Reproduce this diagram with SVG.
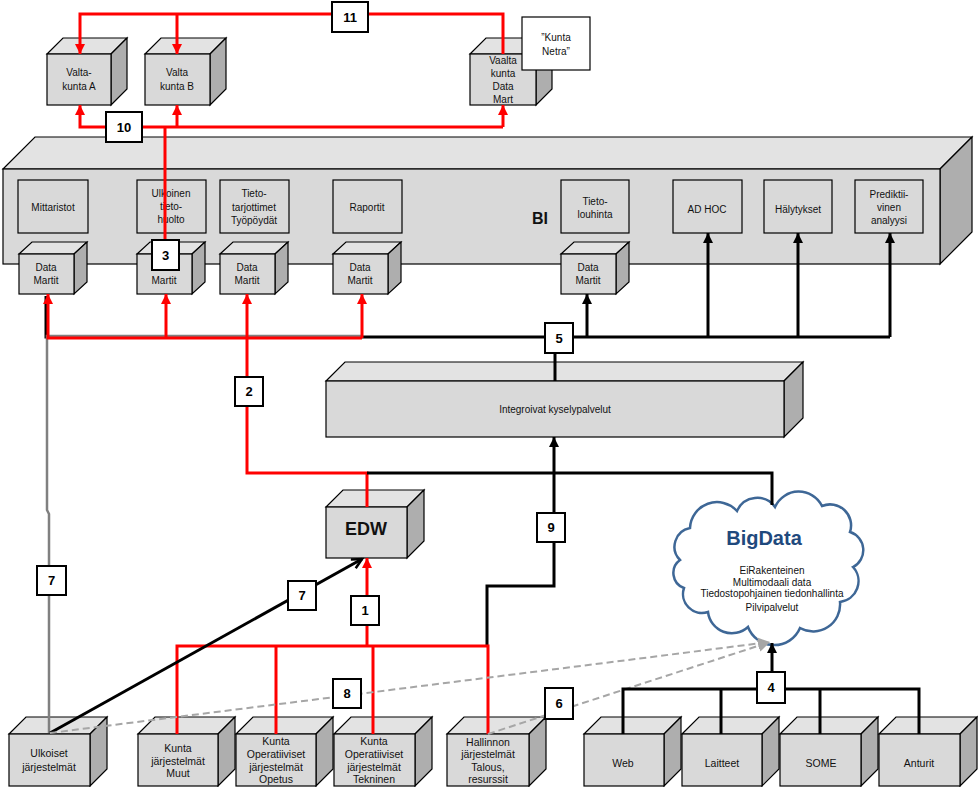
<svg xmlns="http://www.w3.org/2000/svg" width="978" height="787" viewBox="0 0 978 787">
<defs>
<style>
.f{fill:#d9d9d9;stroke:#000;stroke-width:1.2}
.t{fill:#e3e3e3;stroke:#000;stroke-width:1.2}
.s{fill:#aeaeae;stroke:#000;stroke-width:1.2}
.ib{fill:#d9d9d9;stroke:#000;stroke-width:1.2}
text{font-family:"Liberation Sans",Arial,sans-serif;font-size:10px;fill:#111;text-anchor:middle}
.b{font-size:10.5px}
.lb rect{fill:#fff;stroke:#000;stroke-width:2}
.lb text{font-weight:bold;font-size:13px;fill:#000}
.red{fill:none;stroke:#f00;stroke-width:3}
.blk{fill:none;stroke:#000;stroke-width:3}
.gry{fill:none;stroke:#808080;stroke-width:2.5}
.dsh{fill:none;stroke:#a6a6a6;stroke-width:2;stroke-dasharray:7 4}
</style>
<marker id="ar" markerUnits="userSpaceOnUse" markerWidth="11" markerHeight="11" refX="10" refY="5" orient="auto"><path d="M0,0 L10,5 L0,10 z" fill="#f00"/></marker>
<marker id="ab" markerUnits="userSpaceOnUse" markerWidth="11" markerHeight="11" refX="10" refY="5" orient="auto"><path d="M0,0 L10,5 L0,10 z" fill="#000"/></marker>
<marker id="ao" markerUnits="userSpaceOnUse" markerWidth="14" markerHeight="14" refX="11" refY="6" orient="auto"><path d="M1,1 L11,6 L1,11" fill="none" stroke="#000" stroke-width="2.5"/></marker>
<marker id="ag" markerUnits="userSpaceOnUse" markerWidth="13" markerHeight="13" refX="12" refY="6" orient="auto"><path d="M0,0 L12,6 L0,12 z" fill="#a6a6a6"/></marker>
</defs>
<rect width="978" height="787" fill="#fff"/>

<!-- BI container -->
<g id="bi">
<polygon class="t" points="3,169 35,137 972,137 940,169"/>
<polygon class="s" points="940,169 972,137 972,232 940,264"/>
<rect class="f" x="3" y="169" width="937" height="95"/>
<text x="540" y="224" style="font-weight:bold;font-size:16px">BI</text>
</g>
<g id="mittaristot"><rect class="ib" x="18" y="180" width="70" height="53"/><text x="53" y="211">Mittaristot</text></g>
<g id="ulkoinen"><rect class="ib" x="137" y="180" width="69" height="53"/><text x="171" y="197">Ulkoinen</text><text x="171" y="210">tieto-</text><text x="171" y="223">huolto</text></g>
<g id="tietotarjottimet"><rect class="ib" x="220" y="180" width="69" height="53"/><text x="254" y="197">Tieto-</text><text x="254" y="211">tarjottimet</text><text x="254" y="224">Työpöydät</text></g>
<g id="raportit"><rect class="ib" x="333" y="180" width="69" height="53"/><text x="367" y="211">Raportit</text></g>
<g id="tietolouhinta"><rect class="ib" x="561" y="180" width="68" height="53"/><text x="595" y="205">Tieto-</text><text x="595" y="218">louhinta</text></g>
<g id="adhoc"><rect class="ib" x="673" y="180" width="69" height="53"/><text x="707" y="213">AD HOC</text></g>
<g id="halytykset"><rect class="ib" x="764" y="180" width="68" height="53"/><text x="798" y="213">Hälytykset</text></g>
<g id="prediktiivinen"><rect class="ib" x="855" y="180" width="68" height="53"/><text x="889" y="198">Prediktii-</text><text x="889" y="211">vinen</text><text x="889" y="224">analyysi</text></g>

<!-- Data martit cubes -->
<g id="dm1"><polygon class="t" points="19,254 32,242 87,242 74,254"/><polygon class="s" points="74,254 87,242 87,282 74,294"/><rect class="f" x="19" y="254" width="55" height="40"/><text x="46" y="271">Data</text><text x="46" y="284">Martit</text></g>
<g id="dm2"><polygon class="t" points="137,254 150,242 205,242 192,254"/><polygon class="s" points="192,254 205,242 205,282 192,294"/><rect class="f" x="137" y="254" width="55" height="40"/><text x="164" y="271">Data</text><text x="164" y="284">Martit</text></g>
<g id="dm3"><polygon class="t" points="220,254 233,242 288,242 275,254"/><polygon class="s" points="275,254 288,242 288,282 275,294"/><rect class="f" x="220" y="254" width="55" height="40"/><text x="247" y="271">Data</text><text x="247" y="284">Martit</text></g>
<g id="dm4"><polygon class="t" points="333,254 346,242 401,242 388,254"/><polygon class="s" points="388,254 401,242 401,282 388,294"/><rect class="f" x="333" y="254" width="55" height="40"/><text x="360" y="271">Data</text><text x="360" y="284">Martit</text></g>
<g id="dm5"><polygon class="t" points="561,254 574,242 629,242 616,254"/><polygon class="s" points="616,254 629,242 629,282 616,294"/><rect class="f" x="561" y="254" width="55" height="40"/><text x="588" y="271">Data</text><text x="588" y="284">Martit</text></g>

<!-- Top cubes -->
<g id="valtakuntaA"><polygon class="t" points="47,54 63,38 127,38 111,54"/><polygon class="s" points="111,54 127,38 127,89 111,105"/><rect class="f" x="47" y="54" width="64" height="51"/><text x="79" y="76">Valta-</text><text x="79" y="90">kunta A</text></g>
<g id="valtakuntaB"><polygon class="t" points="145,54 161,38 226,38 210,54"/><polygon class="s" points="210,54 226,38 226,89 210,105"/><rect class="f" x="145" y="54" width="65" height="51"/><text x="177" y="76">Valta</text><text x="177" y="90">kunta B</text></g>
<g id="vaaltadatamart"><polygon class="t" points="470,54 486,38 552,38 536,54"/><polygon class="s" points="536,54 552,38 552,89 536,105"/><rect class="f" x="470" y="54" width="66" height="51"/><text x="503" y="64">Vaalta</text><text x="503" y="77">kunta</text><text x="503" y="90">Data</text><text x="503" y="103">Mart</text></g>
<g id="kuntanetra"><rect x="522" y="17" width="68" height="53" fill="#fff" stroke="#000" stroke-width="1.2"/><text x="556" y="41">”Kunta</text><text x="556" y="55">Netra”</text></g>

<!-- Integroivat -->
<g id="integroivat"><polygon class="t" points="326,381 345,362 803,362 784,381"/><polygon class="s" points="784,381 803,362 803,418 784,437"/><rect class="f" x="326" y="381" width="458" height="56"/><text x="555" y="413">Integroivat kyselypalvelut</text></g>

<!-- EDW -->
<g id="edw"><polygon class="t" points="326,507 343,490 424,490 407,507"/><polygon class="s" points="407,507 424,490 424,541 407,558"/><rect class="f" x="326" y="507" width="81" height="51"/><text x="366" y="535" style="font-weight:bold;font-size:18px">EDW</text></g>

<!-- BigData cloud -->
<g id="bigdata">
<path d="M680,560 A19,19 0 0 1 690,528 A27,27 0 0 1 737,511 A22,22 0 0 1 775,507 A26,26 0 0 1 822,506 A21,21 0 0 1 850,532 A19,19 0 0 1 853,567 A21,21 0 0 1 840,602 A27,27 0 0 1 800,628 A28,28 0 0 1 748,627 A24,24 0 0 1 708,612 A19,19 0 0 1 684,588 A16,16 0 0 1 680,560 Z" fill="#fff" stroke="#3e6796" stroke-width="2.5"/>
<text x="764" y="545" style="font-weight:bold;font-size:20px;fill:#1f497d">BigData</text>
<text x="772" y="574">EiRakenteinen</text>
<text x="772" y="586">Multimodaali data</text>
<text x="772" y="597">Tiedostopohjainen tiedonhallinta</text>
<text x="772" y="611">Pilvipalvelut</text>
</g>

<!-- Bottom cubes -->
<g id="ulkoiset"><polygon class="t" points="9,734 26,717 107,717 90,734"/><polygon class="s" points="90,734 107,717 107,769 90,786"/><rect class="f" x="9" y="734" width="81" height="52"/><text class="b" x="49" y="757">Ulkoiset</text><text class="b" x="49" y="771">järjestelmät</text></g>
<g id="kuntamuut"><polygon class="t" points="138,734 155,717 235,717 218,734"/><polygon class="s" points="218,734 235,717 235,769 218,786"/><rect class="f" x="138" y="734" width="80" height="52"/><text class="b" x="178" y="752">Kunta</text><text class="b" x="178" y="765">järjestelmät</text><text class="b" x="178" y="777">Muut</text></g>
<g id="kuntaopetus"><polygon class="t" points="236,734 253,717 333,717 316,734"/><polygon class="s" points="316,734 333,717 333,769 316,786"/><rect class="f" x="236" y="734" width="80" height="52"/><text class="b" x="276" y="745">Kunta</text><text class="b" x="276" y="758">Operatiiviset</text><text class="b" x="276" y="771">järjestelmät</text><text class="b" x="276" y="783">Opetus</text></g>
<g id="kuntatekninen"><polygon class="t" points="334,734 351,717 432,717 415,734"/><polygon class="s" points="415,734 432,717 432,769 415,786"/><rect class="f" x="334" y="734" width="81" height="52"/><text class="b" x="374" y="745">Kunta</text><text class="b" x="374" y="758">Operatiiviset</text><text class="b" x="374" y="771">järjestelmät</text><text class="b" x="374" y="783">Tekninen</text></g>
<g id="hallinnon"><polygon class="t" points="447,734 464,717 546,717 529,734"/><polygon class="s" points="529,734 546,717 546,769 529,786"/><rect class="f" x="447" y="734" width="82" height="52"/><text class="b" x="488" y="746">Hallinnon</text><text class="b" x="488" y="758">järjestelmät</text><text class="b" x="488" y="771">Talous,</text><text class="b" x="488" y="783">resurssit</text></g>
<g id="web"><polygon class="t" points="584,734 601,717 681,717 664,734"/><polygon class="s" points="664,734 681,717 681,769 664,786"/><rect class="f" x="584" y="734" width="80" height="52"/><text class="b" x="623" y="767">Web</text></g>
<g id="laitteet"><polygon class="t" points="682,734 699,717 779,717 762,734"/><polygon class="s" points="762,734 779,717 779,769 762,786"/><rect class="f" x="682" y="734" width="80" height="52"/><text class="b" x="722" y="767">Laitteet</text></g>
<g id="some"><polygon class="t" points="780,734 797,717 878,717 861,734"/><polygon class="s" points="861,734 878,717 878,769 861,786"/><rect class="f" x="780" y="734" width="81" height="52"/><text class="b" x="821" y="767">SOME</text></g>
<g id="anturit"><polygon class="t" points="879,734 896,717 977,717 960,734"/><polygon class="s" points="960,734 977,717 977,769 960,786"/><rect class="f" x="879" y="734" width="81" height="52"/><text class="b" x="919" y="767">Anturit</text></g>

<!-- Connectors -->
<g id="connectors">
<path class="blk" d="M46,296 V337 H890"/>
<path class="gry" d="M49,733 V514 L47,510 V336 H362"/>
<path class="red" d="M503,54 V14 H80 V54" marker-end="url(#ar)"/>
<path class="red" d="M177,14 V54" marker-end="url(#ar)"/>
<path class="red" d="M503,127 H80 V105" marker-end="url(#ar)"/>
<path class="red" d="M503,127 V105" marker-end="url(#ar)"/>
<path class="red" d="M177,127 V105" marker-end="url(#ar)"/>
<path class="red" d="M165,127 V242"/>
<path class="red" d="M362,338 H48 V294" marker-end="url(#ar)"/>
<path class="red" d="M166,338 V294" marker-end="url(#ar)"/>
<path class="red" d="M247,338 V294" marker-end="url(#ar)"/>
<path class="red" d="M362,338 V294" marker-end="url(#ar)"/>
<path class="red" d="M247,338 V473 H367 V507"/>
<path class="blk" d="M587,337 V294" marker-end="url(#ab)"/>
<path class="blk" d="M708,337 V233" marker-end="url(#ab)"/>
<path class="blk" d="M798,337 V233" marker-end="url(#ab)"/>
<path class="blk" d="M890,337 V233" marker-end="url(#ab)"/>
<path class="blk" d="M555,337 V381"/>
<path class="blk" d="M367,473 H772 V505"/>
<path class="blk" d="M487,646 V586 H554 V437" marker-end="url(#ab)"/>
<path class="red" d="M177,734 V646 H488 V734"/>
<path class="red" d="M276,646 V734"/>
<path class="red" d="M373,646 V734"/>
<path class="red" d="M367,646 V558" marker-end="url(#ar)"/>
<path class="blk" d="M50,733 L362,559" marker-end="url(#ao)"/>
<path class="dsh" d="M50,733 L770,642" marker-end="url(#ag)"/>
<path class="dsh" d="M488,734 L770,642" marker-end="url(#ag)"/>
<path class="blk" d="M623,734 V689 H919 V734"/>
<path class="blk" d="M721,689 V734"/>
<path class="blk" d="M820,689 V734"/>
<path class="blk" d="M772,689 V643" marker-end="url(#ab)"/>
</g>

<!-- Number labels -->
<g id="labels">
<g class="lb"><rect x="332" y="2" width="36" height="30"/><text x="350" y="22">11</text></g>
<g class="lb"><rect x="106" y="112" width="36" height="30"/><text x="124" y="132">10</text></g>
<g class="lb"><rect x="152" y="240" width="27" height="30"/><text x="165.5" y="260">3</text></g>
<g class="lb"><rect x="235" y="377" width="28" height="29"/><text x="249" y="396">2</text></g>
<g class="lb"><rect x="545" y="323" width="28" height="30"/><text x="559" y="343">5</text></g>
<g class="lb"><rect x="37" y="566" width="29" height="29"/><text x="51.5" y="585">7</text></g>
<g class="lb"><rect x="288" y="581" width="28" height="29"/><text x="302" y="600">7</text></g>
<g class="lb"><rect x="351" y="596" width="28" height="29"/><text x="365" y="615">1</text></g>
<g class="lb"><rect x="537" y="513" width="28" height="29"/><text x="551" y="532">9</text></g>
<g class="lb"><rect x="333" y="679" width="28" height="29"/><text x="347" y="698">8</text></g>
<g class="lb"><rect x="545" y="688" width="28" height="31"/><text x="559" y="708">6</text></g>
<g class="lb"><rect x="757" y="672" width="28" height="31"/><text x="771" y="692">4</text></g>
</g>
</svg>
